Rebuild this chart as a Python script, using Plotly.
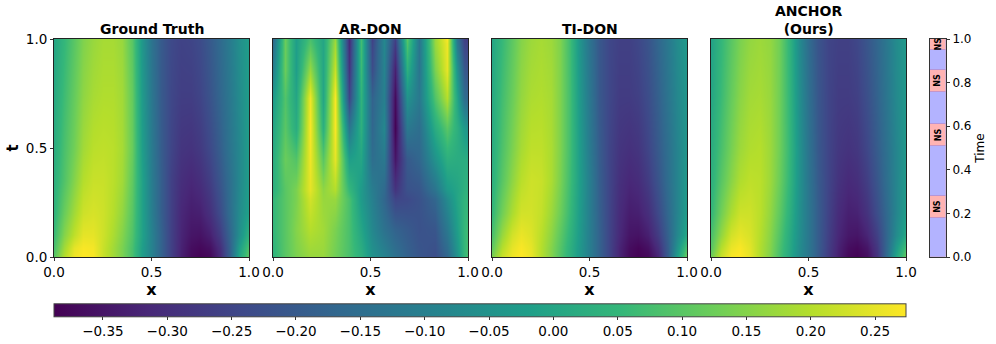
import plotly.graph_objects as go

# Shared sampling of the smooth panels
x_smooth = [0, .05, .1, .15, .2, .25, .3, .35, .4, .45, .5, .55, .6, .65, .7, .75, .8, .85, .9, .95, 1]
t_smooth = [0, .04, .1, .2, .35, .5, .75, 1]

ground_truth = [
 [.10,.20,.26,.275,.27,.22,.18,.14,.08,-.02,-.10,-.18,-.26,-.33,-.37,-.385,-.375,-.31,-.18,.0,.11],
 [.08,.18,.25,.27,.265,.22,.18,.14,.08,-.02,-.10,-.18,-.26,-.325,-.365,-.375,-.36,-.3,-.18,-.02,.09],
 [.06,.15,.21,.25,.25,.225,.19,.15,.09,-.01,-.10,-.18,-.26,-.32,-.35,-.355,-.33,-.27,-.17,-.06,.04],
 [.04,.12,.18,.225,.235,.225,.2,.165,.1,-.01,-.11,-.19,-.26,-.315,-.335,-.33,-.295,-.235,-.15,-.07,-.01],
 [.03,.09,.15,.2,.22,.22,.205,.18,.11,-.01,-.115,-.19,-.26,-.3,-.315,-.3,-.265,-.21,-.145,-.08,-.02],
 [.02,.08,.13,.18,.205,.21,.205,.185,.12,-.02,-.12,-.195,-.25,-.285,-.29,-.275,-.24,-.19,-.13,-.08,-.02],
 [.01,.065,.115,.16,.185,.195,.195,.18,.115,-.03,-.13,-.2,-.245,-.265,-.265,-.25,-.215,-.17,-.12,-.07,-.02],
 [.0,.05,.1,.145,.17,.185,.185,.17,.1,-.04,-.14,-.2,-.24,-.255,-.25,-.235,-.2,-.16,-.11,-.06,-.02],
]

ti_don = [
 [.14,.22,.26,.275,.255,.20,.15,.09,.03,-.04,-.11,-.18,-.25,-.32,-.37,-.385,-.375,-.32,-.19,-.02,.13],
 [.11,.2,.25,.27,.25,.2,.15,.095,.03,-.04,-.11,-.18,-.25,-.32,-.365,-.38,-.36,-.3,-.19,-.05,.09],
 [.08,.17,.23,.255,.24,.205,.16,.105,.04,-.035,-.11,-.18,-.25,-.31,-.35,-.355,-.33,-.27,-.18,-.08,.01],
 [.05,.13,.19,.23,.23,.215,.175,.125,.055,-.03,-.11,-.185,-.25,-.305,-.335,-.33,-.3,-.24,-.165,-.09,-.02],
 [.03,.1,.16,.205,.225,.22,.19,.14,.065,-.025,-.11,-.19,-.25,-.295,-.315,-.305,-.27,-.215,-.15,-.09,-.03],
 [.02,.085,.14,.185,.21,.21,.19,.145,.07,-.03,-.12,-.195,-.25,-.285,-.295,-.285,-.25,-.2,-.145,-.09,-.04],
 [.01,.07,.12,.165,.19,.195,.185,.145,.07,-.04,-.13,-.205,-.245,-.27,-.27,-.26,-.23,-.185,-.13,-.08,-.04],
 [.0,.055,.105,.15,.175,.185,.175,.145,.065,-.05,-.14,-.205,-.245,-.26,-.26,-.245,-.215,-.17,-.12,-.07,-.03],
]

anchor = [
 [.13,.22,.27,.275,.25,.195,.145,.08,.01,-.07,-.13,-.2,-.27,-.33,-.375,-.385,-.365,-.29,-.15,.0,.12],
 [.10,.2,.255,.27,.245,.195,.15,.085,.015,-.065,-.13,-.195,-.265,-.325,-.365,-.375,-.35,-.28,-.16,-.03,.08],
 [.08,.165,.23,.25,.235,.2,.155,.095,.02,-.06,-.13,-.195,-.26,-.315,-.345,-.35,-.32,-.26,-.165,-.07,.01],
 [.05,.13,.19,.225,.225,.205,.165,.11,.035,-.055,-.13,-.195,-.255,-.305,-.33,-.325,-.29,-.23,-.16,-.085,-.02],
 [.03,.1,.155,.195,.21,.205,.175,.125,.05,-.05,-.135,-.2,-.25,-.29,-.31,-.3,-.265,-.21,-.145,-.085,-.03],
 [.02,.08,.135,.175,.195,.2,.175,.13,.055,-.05,-.14,-.205,-.25,-.28,-.29,-.28,-.245,-.195,-.14,-.085,-.035],
 [.0,.06,.115,.155,.18,.185,.17,.13,.05,-.06,-.15,-.21,-.25,-.27,-.27,-.26,-.225,-.18,-.125,-.075,-.035],
 [-.01,.05,.1,.14,.165,.175,.165,.13,.045,-.07,-.16,-.215,-.25,-.26,-.26,-.245,-.21,-.17,-.12,-.07,-.03],
]

x_ardon = [0, .06, .12, .19, .255, .32, .39, .45, .51, .57, .625, .685, .75, .83, .89, .945, .98, 1]
t_ardon = [0, .13, .265, .31, .45, .59, .73, .86, .98, 1]
ar_don = [
 [.04,.10,.14,.17,.17,.13,.08,.03,-.05,-.09,-.14,-.18,-.21,-.23,-.17,-.05,.05,.08],
 [.05,.10,.15,.20,.18,.14,.08,.0,-.08,-.14,-.18,-.20,-.22,-.21,-.12,-.02,.05,.07],
 [.05,.10,.14,.23,.17,.17,.08,-.03,-.10,-.17,-.25,-.24,-.22,-.17,-.07,.0,.04,.05],
 [.03,.10,.14,.25,.16,.20,.05,-.03,-.11,-.16,-.29,-.22,-.21,-.13,-.03,.0,.03,.04],
 [.02,.12,.09,.26,.10,.25,-.02,.0,-.15,-.12,-.35,-.20,-.17,-.05,.03,.02,.02,.02],
 [.0,.10,.02,.27,.03,.27,-.13,.03,-.17,-.08,-.385,-.12,-.15,.02,.10,.03,-.03,-.05],
 [-.03,.09,.0,.26,.0,.27,-.25,.04,-.18,-.10,-.37,-.05,-.12,.09,.20,.0,-.15,-.17],
 [-.10,.12,-.02,.17,.0,.22,-.29,.06,-.23,-.09,-.33,.03,-.13,.14,.25,-.05,-.20,-.22],
 [-.15,.12,-.02,.09,.0,.18,-.31,.07,-.25,-.08,-.27,.09,-.13,.17,.26,-.12,-.25,-.26],
 [-.17,.12,-.02,.08,.0,.17,-.31,.07,-.26,-.08,-.26,.10,-.13,.17,.27,-.13,-.26,-.27],
]

panel_titles = ["Ground Truth", "AR-DON", "TI-DON", "ANCHOR<br>(Ours)"]
axis_ticks = [0, .5, 1]
colorbar_ticks = [-.35, -.30, -.25, -.20, -.15, -.10, -.05, 0, .05, .10, .15, .20, .25]
value_min, value_max = -.388, .274

# Time strip: alternating regimes
band_base = [0, .181, .279, .509, .609, .759, .859, .948]
band_size = [.181, .098, .23, .10, .15, .10, .089, .052]
band_kind = ["on", "NS", "on", "NS", "on", "NS", "on", "NS"]
ns_centres = [.23, .559, .809, .975]
strip_ticks = [0, .2, .4, .6, .8, 1]

W, H = 996, 344
FONT = "DejaVu Sans"
TXT = "#000000"
panels_px = [(54, 249), (273, 468), (492, 687), (711, 906)]
top_px, bottom_px = 39, 257
ydom = [1 - bottom_px / H, 1 - top_px / H]

fig = go.Figure()
series = [
    (x_smooth, t_smooth, ground_truth),
    (x_ardon, t_ardon, ar_don),
    (x_smooth, t_smooth, ti_don),
    (x_smooth, t_smooth, anchor),
]
layout = {}
for i, (xs, ts, zs) in enumerate(series):
    n = "" if i == 0 else str(i + 1)
    fig.add_trace(go.Heatmap(x=xs, y=ts, z=zs, coloraxis="coloraxis", zsmooth="best",
                             xaxis=f"x{n}", yaxis=f"y{n}"))
    x0, x1 = panels_px[i]
    layout[f"xaxis{n}"] = dict(
        domain=[x0 / W, x1 / W], range=[0, 1], tickvals=axis_ticks, ticktext=["0.0", "0.5", "1.0"],
        ticks="outside", ticklen=3, tickwidth=1, tickcolor="#333", showgrid=False, zeroline=False,
        mirror=True, showline=True, linecolor="#222", linewidth=1, anchor=f"y{n}", automargin=True,
        title=dict(text="<b>x</b>", font=dict(size=16, family=FONT, color=TXT), standoff=0),
        tickfont=dict(size=13.5, family=FONT, color=TXT),
    )
    layout[f"yaxis{n}"] = dict(
        domain=ydom, range=[0, 1], showgrid=False, zeroline=False, mirror=True, showline=True,
        linecolor="#222", linewidth=1, anchor=f"x{n}", automargin=True,
        tickvals=axis_ticks if i == 0 else [], ticktext=["0.0", "0.5", "1.0"] if i == 0 else [],
        ticks="outside" if i == 0 else "", ticklen=3, tickwidth=1, tickcolor="#333",
        tickfont=dict(size=13.5, family=FONT, color=TXT),
    )
layout["yaxis"]["title"] = dict(text="<b>t</b>", font=dict(size=15, family=FONT, color=TXT), standoff=3)

# Time strip
fig.add_trace(go.Bar(
    x=[0] * len(band_base), y=band_size, base=band_base, width=1,
    marker=dict(color=["#ffb3b3" if k == "NS" else "#b3b3ff" for k in band_kind],
                line=dict(color="rgba(150,100,190,0.35)", width=1)),
    xaxis="x5", yaxis="y5", showlegend=False, hoverinfo="skip"))
layout["xaxis5"] = dict(domain=[930 / W, 946 / W], range=[-.5, .5], showticklabels=False, ticks="",
                        showgrid=False, zeroline=False, showline=True, mirror=True, linecolor="#333",
                        linewidth=1, anchor="y5")
layout["yaxis5"] = dict(domain=ydom, range=[0, 1], side="right", anchor="x5", showgrid=False, zeroline=False,
                        tickvals=strip_ticks, ticktext=[f"{v:.1f}" for v in strip_ticks], ticks="outside",
                        ticklen=3, tickcolor="#333", showline=True, mirror=True, linecolor="#333", automargin=True,
                        tickfont=dict(size=12, family=FONT, color=TXT),
                        title=dict(text="Time", font=dict(size=12, family=FONT, color=TXT), standoff=5))

annotations = []
for i, title in enumerate(panel_titles):
    x0, x1 = panels_px[i]
    annotations.append(dict(text=f"<b>{title}</b>", x=(x0 + x1) / 2 / W, y=1 - top_px / H,
                            xref="paper", yref="paper", xanchor="center", yanchor="bottom", showarrow=False,
                            font=dict(size=14, family=FONT, color=TXT)))
for c in ns_centres:
    annotations.append(dict(text="<b>NS</b>", x=0, y=c, xref="x5", yref="y5", showarrow=False, textangle=-90,
                            font=dict(size=8, family=FONT, color=TXT)))

fig.update_layout(
    width=W, height=H, autosize=False, margin=dict(l=0, r=0, t=0, b=0, autoexpand=False),
    paper_bgcolor="white", plot_bgcolor="white", showlegend=False, annotations=annotations, bargap=0,
    coloraxis=dict(
        colorscale="Viridis", cmin=value_min, cmax=value_max,
        colorbar=dict(orientation="h", lenmode="pixels", len=852, thicknessmode="pixels", thickness=13,
                      x=54 / W, xanchor="left", y=1 - 340 / H, yanchor="bottom", xpad=0, ypad=0,
                      tickvals=colorbar_ticks, tickformat=".2f", ticks="outside", ticklen=3, tickcolor="#333",
                      outlinecolor="#444", outlinewidth=1,
                      tickfont=dict(size=13.5, family=FONT, color=TXT)),
    ),
    **layout,
)
fig.write_html("out.html", config={"displayModeBar": False}, post_script="document.body.style.margin='0';")
